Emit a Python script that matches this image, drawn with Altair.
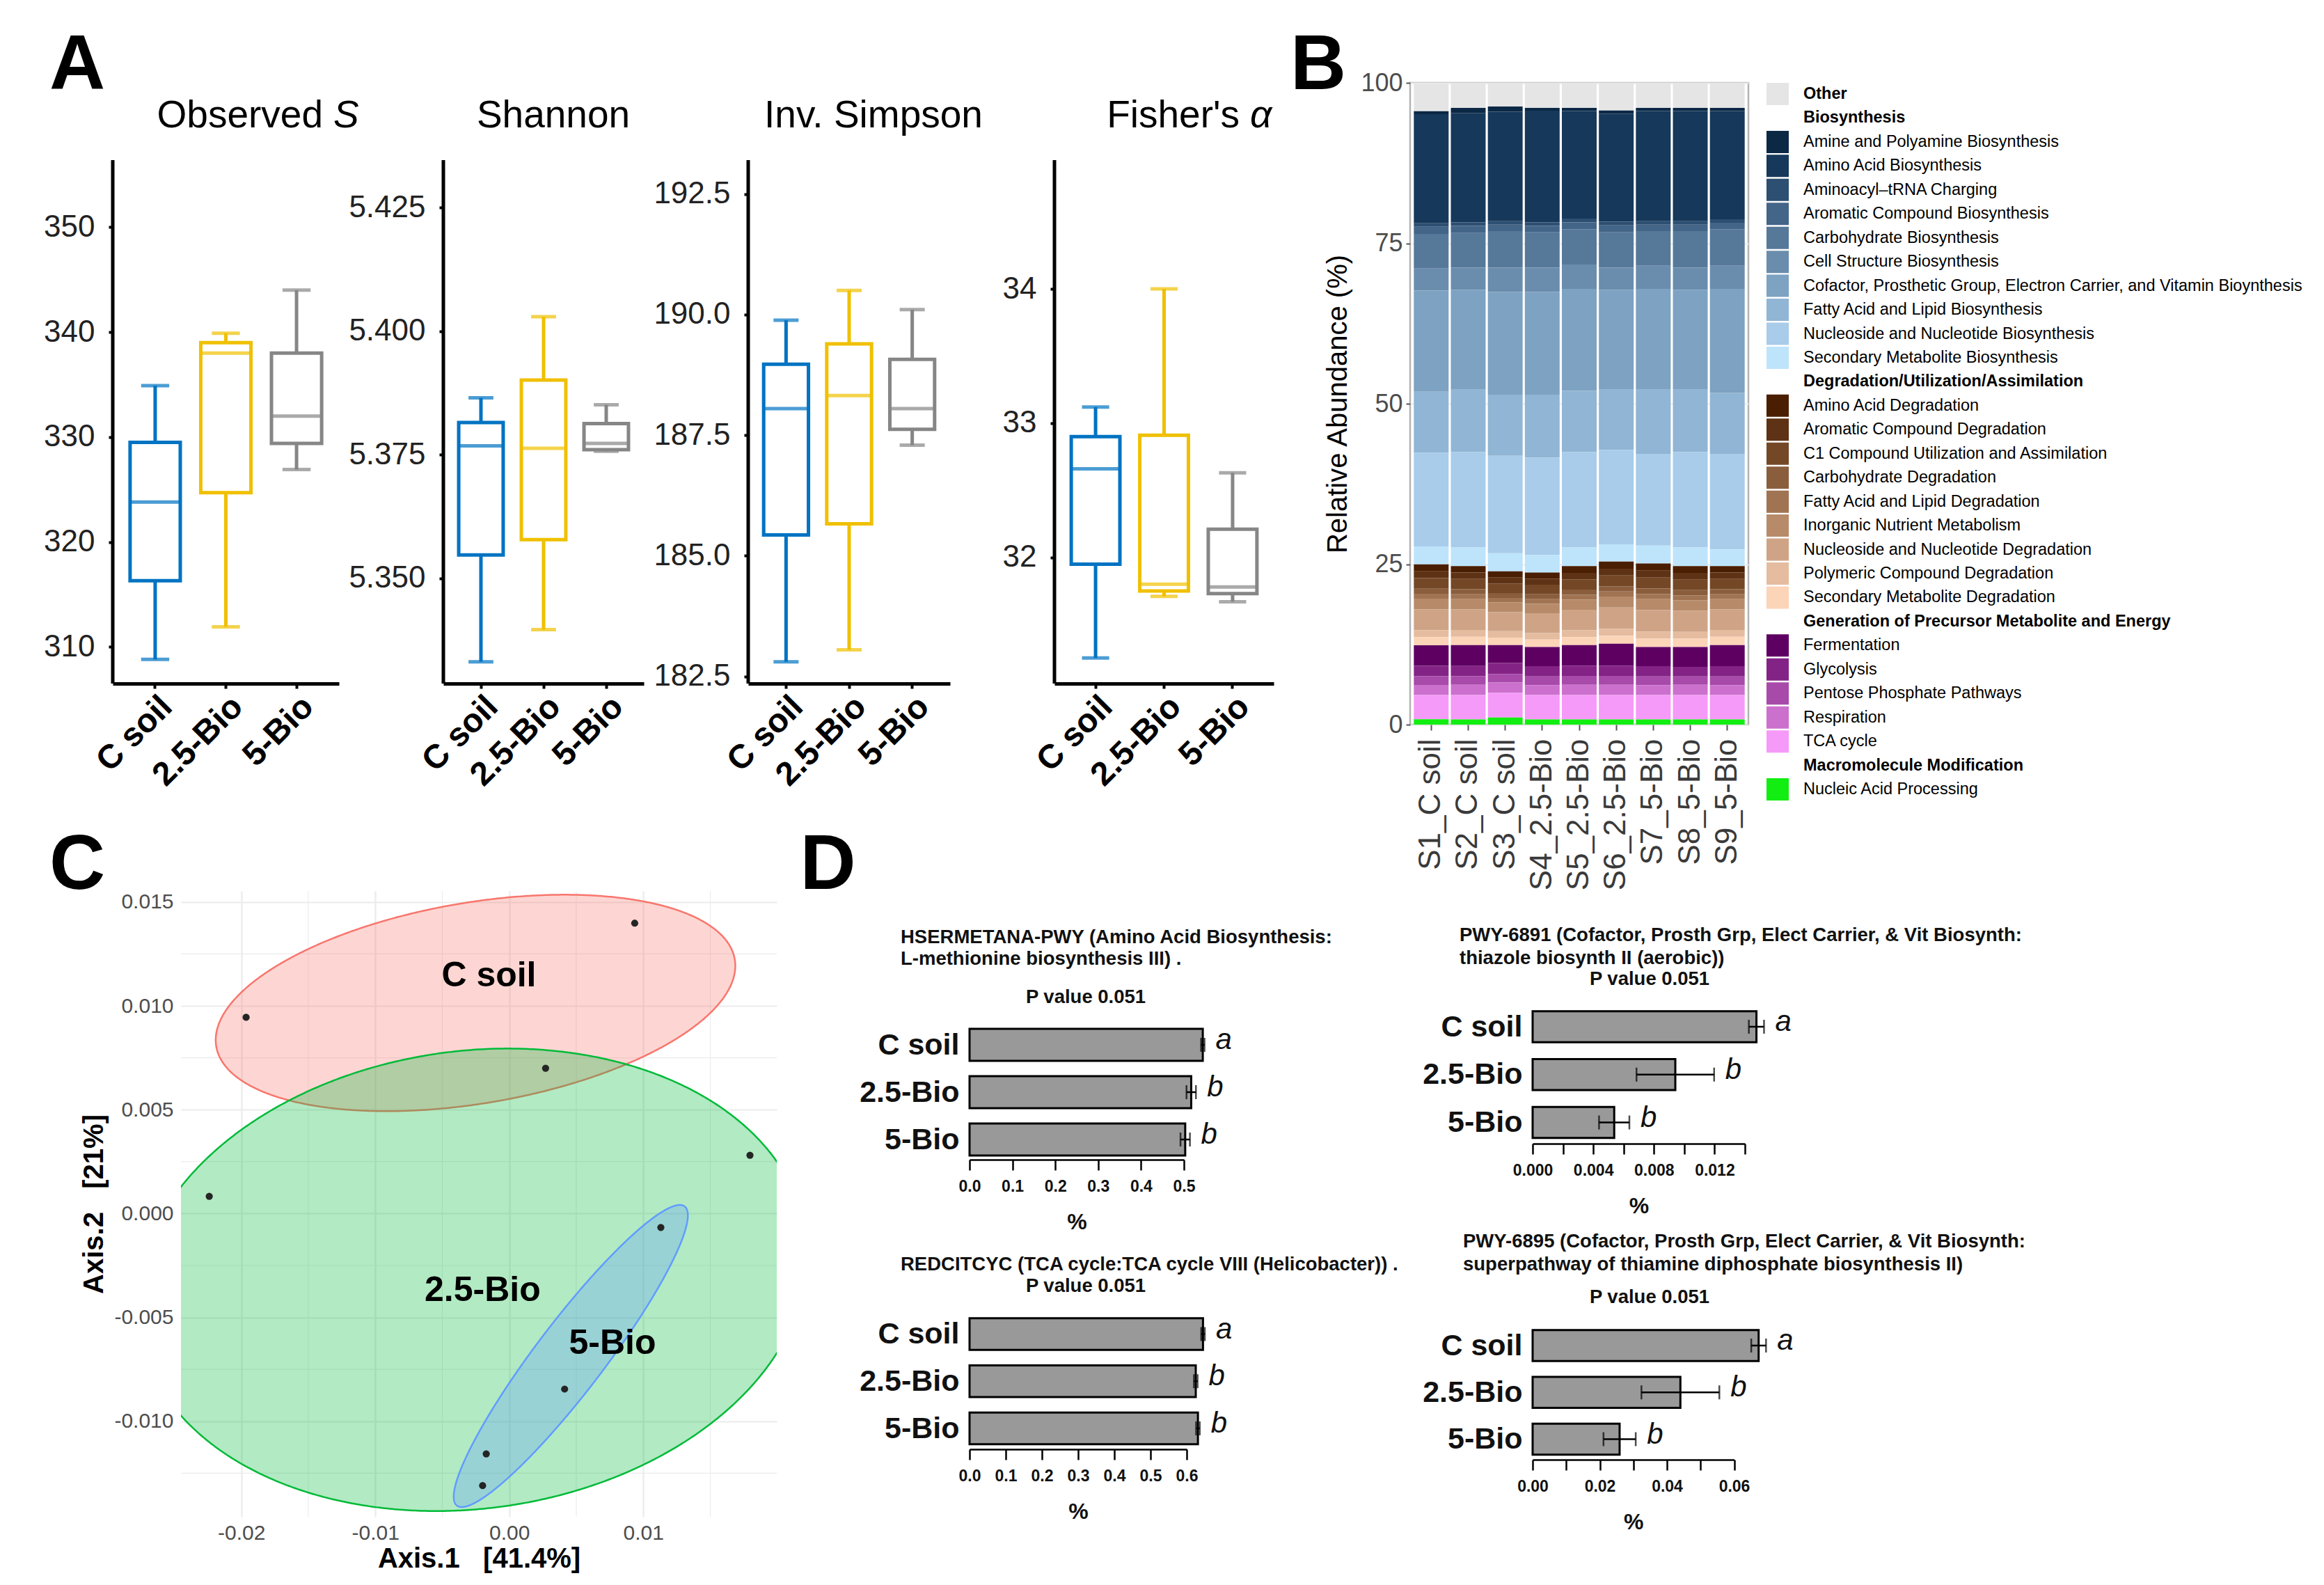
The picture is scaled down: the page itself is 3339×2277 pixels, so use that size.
import json
import altair as alt
import numpy as np
import pandas as pd

FONT = "Liberation Sans, Arial, Helvetica, sans-serif"

# ======================= DATA =======================
groups = ["C soil", "2.5-Bio", "5-Bio"]
group_colors = ["#0073C2", "#EFC000", "#868686"]

# ---- Panel A: box statistics (min, q1, median, q3, max) per group ----
obs_min = [308.8, 311.9, 326.9]
obs_q1 = [316.3, 324.7, 329.4]
obs_med = [323.8, 338.0, 332.0]
obs_q3 = [329.5, 339.0, 338.0]
obs_max = [334.9, 339.9, 344.0]

sha_min = [5.3331, 5.3396, 5.3757]
sha_q1 = [5.3547, 5.3578, 5.3760]
sha_med = [5.3768, 5.3763, 5.3773]
sha_q3 = [5.3815, 5.3901, 5.3813]
sha_max = [5.3865, 5.4029, 5.3851]

inv_min = [182.80, 183.05, 187.29]
inv_q1 = [185.43, 185.66, 187.62]
inv_med = [188.05, 188.32, 188.05]
inv_q3 = [188.97, 189.39, 189.07]
inv_max = [189.88, 190.50, 190.10]

fis_min = [31.25, 31.71, 31.67]
fis_q1 = [31.95, 31.75, 31.73]
fis_med = [32.66, 31.80, 31.78]
fis_q3 = [32.90, 32.91, 32.21]
fis_max = [33.12, 34.00, 32.63]

obs_ticks = [310, 320, 330, 340, 350]
sha_ticks = [5.350, 5.375, 5.400, 5.425]
inv_ticks = [182.5, 185.0, 187.5, 190.0, 192.5]
fis_ticks = [32, 33, 34]

a_titles = ["Observed", "Shannon", "Inv. Simpson", "Fisher's"]
a_titles_italic = ["S", "", "", "\u03b1"]
panel_letters = ["A", "B", "C", "D"]

# ---- Panel B: stacked relative abundance ----
samples = ["S1_C soil", "S2_C soil", "S3_C soil", "S4_2.5-Bio", "S5_2.5-Bio",
           "S6_2.5-Bio", "S7_5-Bio", "S8_5-Bio", "S9_5-Bio"]

legend_entries = [
    "Other",
    "Biosynthesis",
    "Amine and Polyamine Biosynthesis",
    "Amino Acid Biosynthesis",
    "Aminoacyl\u2013tRNA Charging",
    "Aromatic Compound Biosynthesis",
    "Carbohydrate Biosynthesis",
    "Cell Structure Biosynthesis",
    "Cofactor, Prosthetic Group, Electron Carrier, and Vitamin Bioynthesis",
    "Fatty Acid and Lipid Biosynthesis",
    "Nucleoside and Nucleotide Biosynthesis",
    "Secondary Metabolite Biosynthesis",
    "Degradation/Utilization/Assimilation",
    "Amino Acid Degradation",
    "Aromatic Compound Degradation",
    "C1 Compound Utilization and Assimilation",
    "Carbohydrate Degradation",
    "Fatty Acid and Lipid Degradation",
    "Inorganic Nutrient Metabolism",
    "Nucleoside and Nucleotide Degradation",
    "Polymeric Compound Degradation",
    "Secondary Metabolite Degradation",
    "Generation of Precursor Metabolite and Energy",
    "Fermentation",
    "Glycolysis",
    "Pentose Phosphate Pathways",
    "Respiration",
    "TCA cycle",
    "Macromolecule Modification",
    "Nucleic Acid Processing",
]
legend_colors = [
    "#E5E5E5",
    "#FFFFFF",
    "#0B2845", "#16385A", "#2D4F71", "#436588", "#56799A", "#6A8DAD",
    "#7DA2C2", "#91B5D4", "#A8CCEA", "#BEE4FB",
    "#FFFFFF",
    "#4A1E00", "#5E3214", "#744827", "#8A5E3D", "#A07453", "#B78B6A",
    "#CFA486", "#E5BC9F", "#FCD4B8",
    "#FFFFFF",
    "#5E0062", "#842386", "#A84AAA", "#CC70CE", "#F59AF8",
    "#FFFFFF",
    "#12EE12",
]
legend_bold = ["Other", "Biosynthesis", "Degradation/Utilization/Assimilation",
               "Generation of Precursor Metabolite and Energy", "Macromolecule Modification"]

other = [4.3, 3.9, 3.7, 3.9, 3.9, 4.3, 3.9, 3.9, 3.9]
amine_bio = [0.47, 0.8, 0.8, 0.45, 0.5, 0.5, 0.5, 0.5, 0.5]
amino_bio = [17.0, 17.05, 17.05, 17.4, 16.75, 16.85, 17.15, 17.15, 16.85]
aminoacyl = [0.55, 0.55, 0.55, 0.55, 0.6, 0.55, 0.55, 0.55, 0.55]
aromatic_bio = [1.1, 1.1, 1.0, 1.0, 1.05, 1.1, 1.0, 1.0, 1.0]
carb_bio = [5.4, 5.4, 5.7, 5.5, 5.5, 5.5, 5.4, 5.7, 5.7]
cell_bio = [3.45, 3.45, 3.8, 3.8, 3.8, 3.45, 3.6, 3.45, 3.6]
cofactor_bio = [15.75, 15.55, 16.0, 16.0, 15.9, 15.55, 15.7, 15.55, 16.2]
fatty_bio = [9.5, 9.7, 9.5, 9.8, 9.5, 9.4, 10.0, 9.7, 9.5]
nucleo_bio = [14.6, 14.9, 15.2, 15.2, 14.9, 14.7, 14.3, 14.9, 14.9]
second_bio = [2.8, 2.9, 2.8, 2.7, 2.9, 2.7, 2.8, 2.9, 2.6]
amino_deg = [1.09, 1.0, 1.0, 0.95, 1.05, 1.1, 1.1, 1.05, 1.0]
aromatic_deg = [1.05, 1.0, 0.9, 0.95, 1.0, 1.05, 1.1, 1.05, 1.0]
c1_util = [1.64, 1.6, 1.5, 1.5, 1.6, 1.7, 1.7, 1.65, 1.6]
carb_deg = [0.8, 0.8, 0.75, 0.75, 0.8, 0.8, 0.85, 0.8, 0.8]
fatty_deg = [0.76, 0.75, 0.7, 0.7, 0.75, 0.8, 0.8, 0.75, 0.75]
inorganic = [1.64, 1.6, 1.5, 1.5, 1.6, 1.7, 1.7, 1.65, 1.6]
nucleo_deg = [3.27, 3.2, 3.0, 3.1, 3.2, 3.3, 3.35, 3.3, 3.2]
polymeric_deg = [1.09, 1.05, 1.0, 1.0, 1.05, 1.1, 1.1, 1.05, 1.05]
second_deg = [1.27, 1.3, 1.15, 1.15, 1.25, 1.25, 1.3, 1.3, 1.3]
fermentation = [3.2, 3.25, 2.8, 3.0, 3.2, 3.4, 3.0, 3.1, 3.3]
glycolysis = [1.6, 1.6, 1.7, 1.6, 1.6, 1.6, 1.6, 1.5, 1.6]
pentose = [1.38, 1.35, 1.35, 1.35, 1.4, 1.4, 1.35, 1.3, 1.35]
respiration = [1.56, 1.6, 1.6, 1.55, 1.6, 1.6, 1.55, 1.6, 1.55]
tca = [3.78, 3.8, 3.85, 3.8, 3.8, 3.8, 3.8, 3.8, 3.8]
nucleic = [0.84, 0.8, 1.1, 0.8, 0.8, 0.8, 0.8, 0.8, 0.8]

b_values = {
    "Other": other,
    "Amine and Polyamine Biosynthesis": amine_bio,
    "Amino Acid Biosynthesis": amino_bio,
    "Aminoacyl\u2013tRNA Charging": aminoacyl,
    "Aromatic Compound Biosynthesis": aromatic_bio,
    "Carbohydrate Biosynthesis": carb_bio,
    "Cell Structure Biosynthesis": cell_bio,
    "Cofactor, Prosthetic Group, Electron Carrier, and Vitamin Bioynthesis": cofactor_bio,
    "Fatty Acid and Lipid Biosynthesis": fatty_bio,
    "Nucleoside and Nucleotide Biosynthesis": nucleo_bio,
    "Secondary Metabolite Biosynthesis": second_bio,
    "Amino Acid Degradation": amino_deg,
    "Aromatic Compound Degradation": aromatic_deg,
    "C1 Compound Utilization and Assimilation": c1_util,
    "Carbohydrate Degradation": carb_deg,
    "Fatty Acid and Lipid Degradation": fatty_deg,
    "Inorganic Nutrient Metabolism": inorganic,
    "Nucleoside and Nucleotide Degradation": nucleo_deg,
    "Polymeric Compound Degradation": polymeric_deg,
    "Secondary Metabolite Degradation": second_deg,
    "Fermentation": fermentation,
    "Glycolysis": glycolysis,
    "Pentose Phosphate Pathways": pentose,
    "Respiration": respiration,
    "TCA cycle": tca,
    "Nucleic Acid Processing": nucleic,
}

# ---- Panel C: PCoA ----
pc_x = [-0.01964, 0.00936, 0.00271, -0.02239, 0.01796, 0.01131, 0.00413, -0.00172, -0.00199]
pc_y = [0.00945, 0.01398, 0.00700, 0.00083, 0.00281, -0.00067, -0.00845, -0.01157, -0.01310]
ell_groups = ["C soil", "2.5-Bio", "5-Bio"]
ell_colors = ["#F8766D", "#00BA38", "#619CFF"]
ell_cx = [-0.00252, -0.00279, 0.00459]
ell_cy = [0.01014, -0.00319, -0.00686]
ell_u = [(0.01934, 0.00212), (0.02503, 0.00119), (0.00848, 0.00721)]
ell_v = [(0.00134, -0.00476), (0.0, 0.01107), (0.00210, -0.00095)]
lab_x = [-0.00152, -0.00199, 0.00770]
lab_y = [0.01143, -0.00372, -0.00627]
c_xticks = [-0.02, -0.01, 0.0, 0.01]
c_yticks = [-0.010, -0.005, 0.0, 0.005, 0.010, 0.015]
c_xminor = [-0.015, -0.005, 0.005, 0.015]
c_yminor = [-0.0125, -0.0075, -0.0025, 0.0025, 0.0075, 0.0125]

# ---- Panel D: pathway bar charts ----
d_titles = [
    ["HSERMETANA-PWY (Amino Acid Biosynthesis:", "L-methionine biosynthesis III) ."],
    ["REDCITCYC (TCA cycle:TCA cycle VIII (Helicobacter)) ."],
    ["PWY-6891 (Cofactor, Prosth Grp, Elect Carrier, & Vit Biosynth:", "thiazole biosynth II (aerobic))"],
    ["PWY-6895 (Cofactor, Prosth Grp, Elect Carrier, & Vit Biosynth:", "superpathway of thiamine diphosphate biosynthesis II)"],
]
p_label = "P value 0.051"
sig_letters = ["a", "b", "b"]
hser_mean = [0.544, 0.517, 0.503]
hser_se = [0.004, 0.011, 0.011]
redc_mean = [0.645, 0.625, 0.631]
redc_se = [0.005, 0.005, 0.005]
p6891_mean = [0.01476, 0.00941, 0.00538]
p6891_se = [0.0005, 0.00256, 0.0010]
p6895_mean = [0.0673, 0.0440, 0.0259]
p6895_se = [0.0022, 0.0116, 0.0048]
hser_ticks = [0.0, 0.1, 0.2, 0.3, 0.4, 0.5]
redc_ticks = [0.0, 0.1, 0.2, 0.3, 0.4, 0.5, 0.6]
p6891_ticks = [0.0, 0.002, 0.004, 0.006, 0.008, 0.010, 0.012, 0.014]
p6895_ticks = [0.0, 0.01, 0.02, 0.03, 0.04, 0.05, 0.06]


# ======================= HELPERS =======================
def txt(s, x, y, size, weight="normal", style="normal", align="left",
        baseline="alphabetic", color="black"):
    return alt.Chart(pd.DataFrame({"t": [s]})).mark_text(
        fontSize=size, fontWeight=weight, fontStyle=style, align=align,
        baseline=baseline, color=color
    ).encode(x=alt.value(x), y=alt.value(y), text="t:N")


def letter_chart(s, y):
    return txt(s, 0, y, 111, weight="bold").properties(width=1, height=1)


IND = dict(color="independent", stroke="independent")

# ======================= PANEL A =======================
A_H = 863          # plot area from the top of panel B down to the A x-axis
A_EXTRA = 111      # empty band above the visible A axis
a_widths = [325, 288, 290, 315]
a_title_cx = [210, 158, 180, 195]
a_title_split = [92, 0, 0, 71]


def a_panel(i, stats, vis_domain, ticks, fmt):
    width = a_widths[i]
    lo, q1, med, q3, hi = stats
    vb, vt = vis_domain
    top = vt + (vt - vb) * A_EXTRA / (A_H - A_EXTRA)
    df = pd.DataFrame({"group": groups, "lo": lo, "q1": q1, "med": med, "q3": q3, "hi": hi})
    pi, po = 0.29, 0.245
    step = width / (3 - pi + 2 * po)
    bw = step * (1 - pi)
    xax = alt.Axis(title=None, labelAngle=-45, labelAlign="right", labelBaseline="top",
                   labelFontSize=48, labelFontWeight="bold",
                   labelColor="black", labelPadding=2, domainColor="black", domainWidth=5,
                   tickColor="black", tickWidth=4, tickSize=7, grid=False)
    yax = alt.Axis(title=None, values=ticks, format=fmt, labelFontSize=44, labelColor="#222222",
                   labelPadding=20, domain=False, tickColor="black",
                   tickWidth=4, tickSize=6, grid=False)
    X = alt.X("group:N", sort=groups,
              scale=alt.Scale(domain=groups, paddingInner=pi, paddingOuter=po), axis=xax)
    ys = alt.Scale(domain=[vb, top], nice=False, zero=False)
    col = alt.Color("group:N", scale=alt.Scale(domain=groups, range=group_colors), legend=None)
    stk = alt.Stroke("group:N", scale=alt.Scale(domain=groups, range=group_colors), legend=None)
    base = alt.Chart(df)
    w1 = base.mark_rule(strokeWidth=5).encode(
        x=X, y=alt.Y("lo:Q", scale=ys, axis=yax), y2="q1:Q", color=col)
    w2 = base.mark_rule(strokeWidth=5).encode(
        x=X, y=alt.Y("q3:Q", scale=ys, axis=yax), y2="hi:Q", color=col)
    box = base.mark_bar(fill="white", strokeWidth=5).encode(
        x=X, y=alt.Y("q1:Q", scale=ys, axis=yax), y2="q3:Q", stroke=stk)
    medt = base.mark_tick(thickness=5, size=bw).encode(
        x=X, y=alt.Y("med:Q", scale=ys, axis=yax), color=col)
    capl = base.mark_tick(thickness=5, size=bw * 0.56).encode(
        x=X, y=alt.Y("lo:Q", scale=ys, axis=yax), color=col)
    caph = base.mark_tick(thickness=5, size=bw * 0.56).encode(
        x=X, y=alt.Y("hi:Q", scale=ys, axis=yax), color=col)
    yline = alt.Chart(pd.DataFrame({"k": [0]})).mark_rule(color="black", strokeWidth=5).encode(
        x=alt.value(0), y=alt.datum(vt), y2=alt.datum(vb))
    layers = [yline, w1, w2, box, medt, capl, caph]
    cx = a_title_cx[i]
    ty = A_EXTRA - 47
    if a_titles_italic[i]:
        layers.append(txt(a_titles[i], cx + a_title_split[i], ty, 55, align="right"))
        layers.append(txt(a_titles_italic[i], cx + a_title_split[i] + 15, ty, 55, style="italic"))
    else:
        layers.append(txt(a_titles[i], cx, ty, 55, align="center"))
    return alt.layer(*layers).properties(width=width, height=A_H)


A1 = a_panel(0, (obs_min, obs_q1, obs_med, obs_q3, obs_max), [306.5, 356.4], obs_ticks, "d")
A2 = a_panel(1, (sha_min, sha_q1, sha_med, sha_q3, sha_max), [5.3287, 5.4346], sha_ticks, ".3f")
A3 = a_panel(2, (inv_min, inv_q1, inv_med, inv_q3, inv_max), [182.35, 193.2], inv_ticks, ".1f")
A4 = a_panel(3, (fis_min, fis_q1, fis_med, fis_q3, fis_max), [31.06, 34.96], fis_ticks, "d")
Agrp = alt.hconcat(A1, A2, A3, A4, spacing=150, bounds="flush").resolve_scale(**IND)

# ======================= PANEL B =======================
rows = []
for ci, cat in enumerate(legend_entries):
    if cat in b_values:
        for si, s in enumerate(samples):
            rows.append({"sample": s, "cat": cat, "val": b_values[cat][si], "idx": ci})
bdf = pd.DataFrame(rows)

bold_expr = "indexof(" + json.dumps(legend_bold) + ", datum.label) >= 0 ? 'bold' : 'normal'"

b_bars = alt.Chart(bdf).mark_bar().encode(
    x=alt.X("sample:N", sort=samples,
            scale=alt.Scale(domain=samples, paddingInner=0.06, paddingOuter=0.1),
            axis=alt.Axis(title=None, labelAngle=-90, labelAlign="right", labelBaseline="middle",
                          labelFontSize=44, labelColor="#3A3A3A", labelPadding=12, labelLimit=0,
                          domain=False, tickColor="#555555", tickSize=8, tickWidth=2, grid=False)),
    y=alt.Y("val:Q", stack="zero", scale=alt.Scale(domain=[0, 100], nice=False),
            axis=alt.Axis(title="Relative Abundance (%)", values=[0, 25, 50, 75, 100],
                          titleFontSize=40, titleFontWeight="normal", titleColor="black",
                          titlePadding=12, labelFontSize=36, labelColor="#4D4D4D",
                          labelPadding=5, domain=False, tickColor="#555555", tickSize=6,
                          tickWidth=2, grid=True, gridColor="#EBEBEB", gridWidth=2)),
    color=alt.Color("cat:N", scale=alt.Scale(domain=legend_entries, range=legend_colors),
                    legend=alt.Legend(title=None, orient="right", offset=26, padding=0,
                                      symbolType="square", symbolSize=1024,
                                      symbolStrokeWidth=0, labelFontSize=23.5,
                                      labelColor="black", labelOffset=21, rowPadding=2.45,
                                      labelLimit=1200, labelFontWeight={"expr": bold_expr})),
    order=alt.Order("idx:Q", sort="descending"),
)
B = alt.layer(b_bars, txt(panel_letters[1], -172, 9, 111, weight="bold")).properties(
    width=486, height=922, view=alt.ViewBackground(stroke="#B3B3B3", strokeWidth=2.5))

AB = alt.hconcat(Agrp, B, spacing=22).resolve_scale(**IND)
row1 = alt.hconcat(letter_chart(panel_letters[0], 9), AB, spacing=-90).resolve_scale(**IND)

# ======================= PANEL C =======================
C_W, C_H = 856, 899
xs_c = alt.Scale(domain=[-0.0245, 0.01996], nice=False, zero=False)
ys_c = alt.Scale(domain=[-0.0146, 0.01553], nice=False, zero=False)
xax_c = alt.Axis(title="Axis.1\u00a0\u00a0\u00a0[41.4%]", values=c_xticks, format=".2f",
                 labelExpr="replace(datum.label, '\u2212', '-')", labelFlush=False,
                 labelFontSize=30, labelColor="#4D4D4D", labelPadding=8, titleFontSize=40,
                 titleFontWeight="bold", titleColor="black", titlePadding=2, domain=False,
                 ticks=False, grid=True, gridColor="#EBEBEB", gridWidth=2.2)
yax_c = alt.Axis(title="Axis.2\u00a0\u00a0\u00a0[21%]", values=c_yticks, format=".3f",
                 labelExpr="replace(datum.label, '\u2212', '-')",
                 labelFontSize=30, labelColor="#4D4D4D", labelPadding=11, titleFontSize=40,
                 titleFontWeight="bold", titleColor="black", titlePadding=8, domain=False,
                 ticks=False, grid=True, gridColor="#EBEBEB", gridWidth=2.2)


def ellipse_band(cx, cy, u, v, n=400):
    ux, uy = u
    vx, vy = v
    A = ux ** 2 + vx ** 2
    det = ux * vy - vx * uy
    s = np.linspace(np.pi, 0, n)
    dx = np.sqrt(A) * np.cos(s)
    Bq = -2 * dx * (ux * uy + vx * vy)
    Cq = (uy ** 2 + vy ** 2) * dx ** 2 - det ** 2
    disc = np.clip(Bq ** 2 - 4 * A * Cq, 0, None)
    ylo = (-Bq - np.sqrt(disc)) / (2 * A)
    yhi = (-Bq + np.sqrt(disc)) / (2 * A)
    return pd.DataFrame({"x": cx + dx, "ylo": cy + ylo, "yhi": cy + yhi})


c_layers = []
c_layers.append(alt.Chart(pd.DataFrame({"m": c_xminor})).mark_rule(
    color="#EBEBEB", strokeWidth=1.1).encode(x=alt.X("m:Q", scale=xs_c, axis=xax_c)))
c_layers.append(alt.Chart(pd.DataFrame({"m": c_yminor})).mark_rule(
    color="#EBEBEB", strokeWidth=1.1).encode(y=alt.Y("m:Q", scale=ys_c, axis=yax_c)))
for gi in range(3):
    edf = ellipse_band(ell_cx[gi], ell_cy[gi], ell_u[gi], ell_v[gi])
    edf["g"] = ell_groups[gi]
    c_layers.append(alt.Chart(edf).mark_area(
        fillOpacity=0.3, strokeWidth=2.5, strokeOpacity=1, clip=True, interpolate="linear"
    ).encode(
        x=alt.X("x:Q", scale=xs_c, axis=xax_c),
        y=alt.Y("ylo:Q", scale=ys_c, axis=yax_c), y2="yhi:Q",
        color=alt.Color("g:N", scale=alt.Scale(domain=ell_groups, range=ell_colors), legend=None),
        stroke=alt.Stroke("g:N", scale=alt.Scale(domain=ell_groups, range=ell_colors), legend=None),
    ))
c_layers.append(alt.Chart(pd.DataFrame({"x": pc_x, "y": pc_y})).mark_circle(
    size=105, color="#252525", opacity=1).encode(
    x=alt.X("x:Q", scale=xs_c, axis=xax_c), y=alt.Y("y:Q", scale=ys_c, axis=yax_c)))
c_layers.append(alt.Chart(pd.DataFrame({"x": lab_x, "y": lab_y, "t": ell_groups})).mark_text(
    fontSize=50, fontWeight="bold", color="black", align="center", baseline="middle").encode(
    x=alt.X("x:Q", scale=xs_c, axis=xax_c), y=alt.Y("y:Q", scale=ys_c, axis=yax_c), text="t:N"))
C = alt.layer(*c_layers).properties(width=C_W, height=C_H)


# ======================= PANEL D =======================
group_label_expr = json.dumps(groups) + "[round(datum.value)]"


def d_panel(means, ses, dom, ticks, lab_expr, width, height, c0, step, barh,
            title_lines, tdx, tdys, pdx, pdy, letter=None):
    half = barh / (2.0 * step)
    df = pd.DataFrame({"group": groups, "pos": [0, 1, 2], "zero": [0, 0, 0], "mean": means,
                       "lo": [m - s for m, s in zip(means, ses)],
                       "hi": [m + s for m, s in zip(means, ses)],
                       "b0": [k - half for k in range(3)],
                       "b1": [k + half for k in range(3)],
                       "lab": sig_letters})
    ysc = alt.Scale(domain=[-c0 / step, (height - c0) / step], reverse=True, nice=False,
                    zero=False)
    yax = alt.Axis(title=None, values=[0, 1, 2], labelExpr=group_label_expr, domain=False,
                   ticks=False, grid=False, labelFontSize=43, labelFontWeight="bold",
                   labelColor="#111111", labelPadding=15)
    xsc = alt.Scale(domain=dom, nice=False, zero=True)
    xax = alt.Axis(title="%", values=ticks, labelExpr=lab_expr, labelFlush=False,
                   titleFontSize=32, titleFontWeight="bold", titleColor="#111111",
                   titlePadding=24, domainColor="black", domainWidth=2.5, tickColor="black",
                   tickWidth=2.5, tickSize=15, labelFontSize=23, labelFontWeight="bold",
                   labelColor="#111111", labelPadding=12, grid=False)
    base = alt.Chart(df)
    bars = base.mark_rect(fill="#999999", stroke="black", strokeWidth=3).encode(
        x=alt.X("zero:Q", scale=xsc, axis=xax), x2="mean:Q",
        y=alt.Y("b0:Q", scale=ysc, axis=yax), y2="b1:Q")
    err = base.mark_rule(color="black", strokeWidth=2.5).encode(
        y=alt.Y("pos:Q", scale=ysc, axis=yax), x=alt.X("lo:Q", scale=xsc, axis=xax), x2="hi:Q")
    c1 = base.mark_tick(color="black", thickness=2.5, size=20, orient="vertical").encode(
        y=alt.Y("pos:Q", scale=ysc, axis=yax), x=alt.X("lo:Q", scale=xsc, axis=xax))
    c2 = base.mark_tick(color="black", thickness=2.5, size=20, orient="vertical").encode(
        y=alt.Y("pos:Q", scale=ysc, axis=yax), x=alt.X("hi:Q", scale=xsc, axis=xax))
    lets = base.mark_text(align="left", baseline="middle", dx=16, dy=-7, fontSize=42,
                          fontStyle="italic", color="#111111").encode(
        y=alt.Y("pos:Q", scale=ysc, axis=yax), x=alt.X("hi:Q", scale=xsc, axis=xax),
        text="lab:N")
    layers = [bars, err, c1, c2, lets]
    for line, dy in zip(title_lines, tdys):
        layers.append(txt(line, tdx, dy, 27.5, weight="bold", baseline="middle", color="#111111"))
    layers.append(txt(p_label, pdx, pdy, 27.5, weight="bold", align="center",
                      baseline="middle", color="#111111"))
    if letter:
        layers.append(txt(letter, -243.6, -3, 111, weight="bold"))
    return alt.layer(*layers).properties(width=width, height=height)


D1 = d_panel(hser_mean, hser_se, [0, 0.5], hser_ticks, "format(datum.value, '.1f')",
             308, 386, 221, 68, 46, d_titles[0], -99, [67, 98], 167, 153,
             letter=panel_letters[3])
D2 = d_panel(redc_mean, redc_se, [0, 0.6], redc_ticks, "format(datum.value, '.1f')",
             312, 216, 50.5, 67.75, 45.5, d_titles[1], -99, [-49], 167, -18)
D3 = d_panel(p6891_mean, p6891_se, [0, 0.014], p6891_ticks,
             "round(datum.value*1000) % 4 == 0 ? format(datum.value, '.3f') : ''",
             305, 363, 195, 68.75, 44.5, d_titles[2], -105, [64, 97], 168, 127)
D4 = d_panel(p6895_mean, p6895_se, [0, 0.06], p6895_ticks,
             "round(datum.value*100) % 2 == 0 ? format(datum.value, '.2f') : ''",
             289.5, 231, 67, 67.25, 44.5, d_titles[3], -100, [-82, -49], 168, -2)

Dgrp = alt.concat(D1, D3, D2, D4, columns=2, spacing={"row": 200, "column": 497},
                  bounds="flush", align="none").resolve_scale(**IND)

CD = alt.hconcat(C, Dgrp, spacing=32).resolve_scale(**IND)
row2 = alt.hconcat(letter_chart(panel_letters[2], -3), CD, spacing=-37).resolve_scale(**IND)

chart = alt.vconcat(row1, row2, spacing=-102).resolve_scale(**IND).properties(
    padding={"left": 54, "top": 29, "right": 10, "bottom": 10}
).configure(font=FONT).configure_view(stroke=None)

chart.save("out.html", embed_options={"renderer": "svg", "actions": False})
